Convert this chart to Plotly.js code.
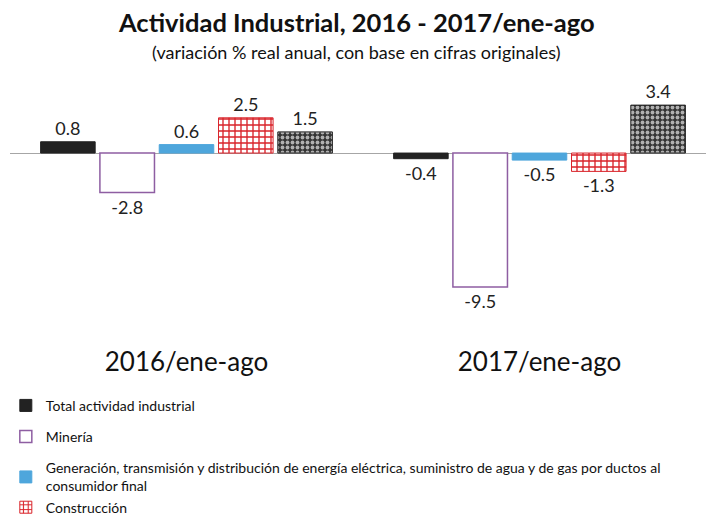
<!DOCTYPE html>
<html>
<head>
<meta charset="utf-8">
<script src="https://cdn.plot.ly/plotly-3.0.1.min.js"></script>
<style>html,body{margin:0;padding:0;background:#fff}#chart{width:706px;height:517px}</style>
</head>
<body>
<div id="chart"></div>
<script>
const periods = ["2016/ene-ago", "2017/ene-ago"];
const seriesNames = [
  "Total actividad industrial",
  "Minería",
  "Generación, transmisión y distribución de energía eléctrica, suministro de agua y de gas por ductos al<br>consumidor final",
  "Construcción",
  "Industrias manufactureras"
];
const totalIndustrial = [0.8, -0.4];
const mineria = [-2.8, -9.5];
const energia = [0.6, -0.5];
const construccion = [2.5, -1.3];
const manufacturas = [1.5, 3.4];
const titleText = "Actividad Industrial, 2016 - 2017/ene-ago";
const subtitleText = "(variación % real anual, con base en cifras originales)";

const font = "Lato, 'Open Sans', sans-serif";
const labelFont = {family: font, size: 18, color: "#222"};

function bar(name, y, marker, group, showlegend) {
  return {
    type: "bar", x: periods, y: y, name: name, marker: marker,
    text: y.map(v => v.toFixed(1)), textposition: "outside", textfont: labelFont,
    cliponaxis: false, legendgroup: group, showlegend: showlegend, hoverinfo: "skip"
  };
}

const data = [
  bar(seriesNames[0], totalIndustrial, {color: "#222222", line: {color: "#222222", width: 1}}, "g1", true),
  bar(seriesNames[1], mineria, {color: "#ffffff", line: {color: "#8e5ea2", width: 1.5}}, "g2", true),
  bar(seriesNames[2], energia, {color: "#4ea6dc", line: {color: "#4ea6dc", width: 1}}, "g3", true),
  bar(seriesNames[3], construccion, {color: "#ffffff", line: {color: "#d9232a", width: 1},
      pattern: {shape: "+", fgcolor: "#d9232a", bgcolor: "#ffffff", size: 6, solidity: 0.4, fillmode: "replace"}}, "g3", true),
  bar(seriesNames[4], manufacturas, {color: "#3a3a3a", line: {color: "#222", width: 1},
      pattern: {shape: ".", fgcolor: "#b0b0b0", bgcolor: "#333333", size: 5, solidity: 0.45, fillmode: "replace"}}, "g3", false)
];

const layout = {
  width: 706, height: 517,
  paper_bgcolor: "#fff", plot_bgcolor: "#fff",
  margin: {l: 10, r: 0, t: 80, b: 182, autoexpand: false},
  font: {family: font, color: "#111"},
  annotations: [
    {text: "<b>" + titleText + "</b>", xref: "paper", yref: "paper", x: 0.498, y: 1, yshift: 58,
     xanchor: "center", yanchor: "middle", showarrow: false, font: {family: font, size: 25.5, color: "#111"}},
    {text: subtitleText, xref: "paper", yref: "paper", x: 0.498, y: 1, yshift: 28,
     xanchor: "center", yanchor: "middle", showarrow: false, font: {family: font, size: 18, color: "#111"}}
  ],
  barmode: "group", bargap: 0.16, bargroupgap: 0.08,
  xaxis: {
    type: "category", range: [-0.5, 1.4717], showgrid: false, showline: false, zeroline: false,
    ticks: "", ticklabelstandoff: 9, tickfont: {family: font, size: 26, color: "#111"}, fixedrange: true
  },
  yaxis: {
    range: [-12.9, 5.18], showgrid: false, showline: false, showticklabels: false, ticks: "",
    zeroline: true, zerolinecolor: "#a6a6a6", zerolinewidth: 1, fixedrange: true
  },
  showlegend: true,
  legend: {
    orientation: "v", x: -0.006, xanchor: "left", xref: "paper",
    y: 0.246, yanchor: "top", yref: "container",
    font: {family: font, size: 14, color: "#111"},
    tracegroupgap: 10, itemwidth: 30, traceorder: "grouped", bgcolor: "rgba(0,0,0,0)"
  }
};

Plotly.newPlot("chart", data, layout, {displayModeBar: false, staticPlot: true});
</script>
</body>
</html>
